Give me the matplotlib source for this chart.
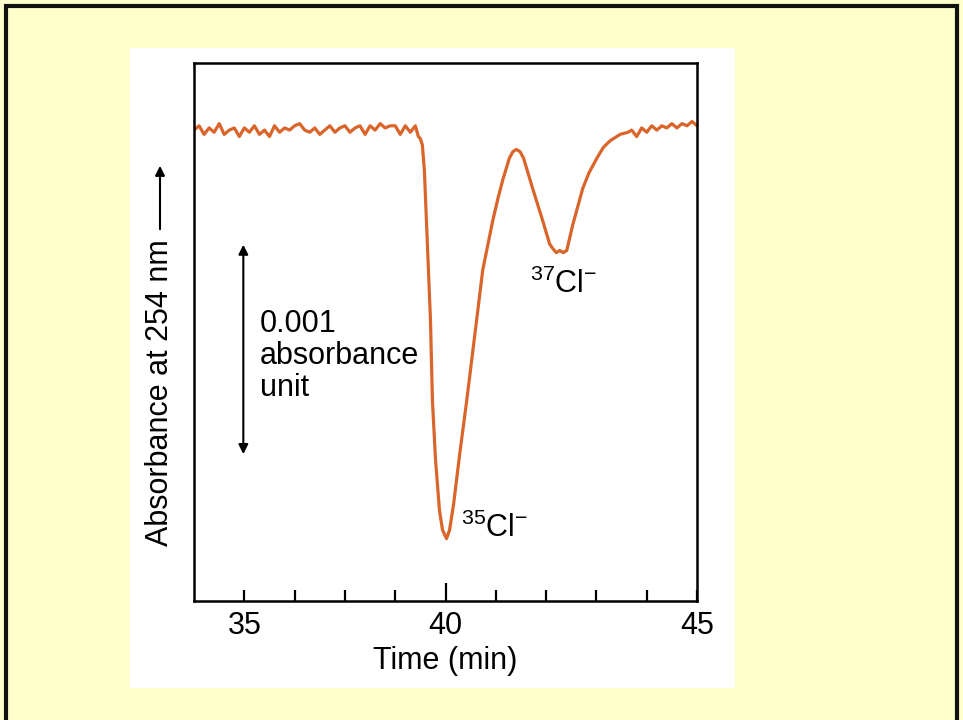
import matplotlib.pyplot as plt
from matplotlib.patches import Rectangle, FancyArrowPatch

plt.rcParams['font.family'] = ['Liberation Sans', 'DejaVu Sans']
plt.rcParams['mathtext.fontset'] = 'custom'
plt.rcParams['mathtext.rm'] = 'Liberation Sans'

# chromatogram trace, time in min, absorbance change in milli-absorbance units
time_min = [35.0, 35.1, 35.2, 35.3, 35.4, 35.5, 35.6, 35.7, 35.8, 35.9,
            36.0, 36.1, 36.2, 36.3, 36.4, 36.5, 36.6, 36.7, 36.8, 36.9,
            37.0, 37.1, 37.2, 37.3, 37.4, 37.5, 37.6, 37.7, 37.8, 37.9,
            38.0, 38.1, 38.2, 38.3, 38.4, 38.5, 38.6, 38.7, 38.8, 38.9,
            39.0, 39.1, 39.2, 39.3, 39.4, 39.46, 39.50, 39.54, 39.58, 39.62,
            39.66, 39.70, 39.74, 39.80, 39.88, 39.94, 40.02, 40.08, 40.16, 40.28,
            40.42, 40.62, 40.74, 40.94, 41.04, 41.14, 41.27, 41.34, 41.41, 41.48,
            41.55, 41.73, 41.93, 42.07, 42.13, 42.20, 42.27, 42.34, 42.41, 42.53,
            42.73, 42.85, 43.01, 43.14, 43.27, 43.47, 43.63, 43.7, 43.8, 43.9,
            44.0, 44.1, 44.2, 44.3, 44.4, 44.5, 44.6, 44.7, 44.8, 44.9, 45.0]
absorbance_mAU = [0.00, 0.02, -0.02, 0.01, -0.01, 0.03, -0.02, 0.00, 0.01, -0.03,
                  0.01, -0.01, 0.02, -0.02, 0.00, -0.03, 0.02, -0.01, 0.01, 0.00,
                  0.02, 0.03, 0.00, -0.01, 0.01, -0.02, 0.00, 0.02, -0.01, 0.01,
                  0.02, -0.01, 0.01, 0.02, -0.02, 0.02, 0.00, 0.03, 0.01, 0.02,
                  0.02, -0.02, 0.02, -0.01, 0.02, -0.03, -0.04, -0.07, -0.19, -0.42,
                  -0.65, -0.88, -1.26, -1.53, -1.77, -1.86, -1.90, -1.86, -1.74, -1.51,
                  -1.26, -0.88, -0.65, -0.42, -0.32, -0.23, -0.13, -0.10, -0.09, -0.10,
                  -0.13, -0.27, -0.42, -0.53, -0.55, -0.57, -0.56, -0.57, -0.56, -0.44,
                  -0.27, -0.20, -0.13, -0.08, -0.05, -0.02, -0.01, 0.00, -0.03, 0.01,
                  -0.01, 0.02, 0.00, 0.02, 0.01, 0.03, 0.01, 0.03, 0.02, 0.04, 0.02]

tick_pos = [36, 40, 45]
tick_labels = ['35', '40', '45']
minor_pos = [37, 38, 39, 41, 42, 43, 44]

fig = plt.figure(figsize=(9.63, 7.2), dpi=100, facecolor='#FFFFCC')

# white panel behind the plot and black frame round the slide
fig.patches.append(Rectangle((0.135, 0.0444), 0.628, 0.889, transform=fig.transFigure,
                             facecolor='white', edgecolor='none', zorder=-1))
fig.patches.append(Rectangle((6 / 963, -0.1), 951 / 963, 1.1 - 6 / 720, transform=fig.transFigure,
                             fill=False, edgecolor='#111111', linewidth=3, zorder=5))

ax = fig.add_axes([0.2015, 0.1653, 0.5223, 0.7472])
ax.set_zorder(1)
ax.plot(time_min, absorbance_mAU, color='#D9652B', linewidth=2.3,
        solid_joinstyle='round', solid_capstyle='round')

ax.set_xlim(35, 45)
ax.set_ylim(-2.19, 0.312)
ax.set_yticks([])
ax.set_xticks(tick_pos)
ax.set_xticklabels(tick_labels, fontsize=22)
ax.set_xticks(minor_pos, minor=True)
ax.tick_params(axis='x', which='both', direction='in', width=1.6, length=8, pad=7)
ax.xaxis.get_major_ticks()[1].tick1line.set_markersize(13)
for s in ax.spines.values():
    s.set_linewidth(1.8)
ax.set_xlabel('Time (min)', fontsize=22, labelpad=4)

# scale bar for 0.001 absorbance unit
ax.annotate('', xy=(35.98, -0.52), xytext=(35.98, -1.52),
            arrowprops=dict(arrowstyle='<|-|>', color='black', lw=1.5, mutation_scale=14))
ax.text(36.31, -1.05, '0.001\nabsorbance\nunit', fontsize=22, ha='left', va='center',
        linespacing=1.08)

ax.text(40.30, -1.893, r'$\mathregular{^{35}Cl^{-}}$', fontsize=22, ha='left', va='baseline')
ax.text(41.67, -0.757, r'$\mathregular{^{37}Cl^{-}}$', fontsize=22, ha='left', va='baseline')

fig.text(160 / 963, 1 - 393 / 720, 'Absorbance at 254 nm', fontsize=22, rotation=90,
         ha='center', va='center')
fig.patches.append(FancyArrowPatch(
    (160 / 963, 1 - 232 / 720), (160 / 963, 1 - 163 / 720), transform=fig.transFigure,
    arrowstyle='-|>', color='black', lw=1.5, mutation_scale=14))

fig.savefig('out.png', dpi=100, facecolor=fig.get_facecolor())
